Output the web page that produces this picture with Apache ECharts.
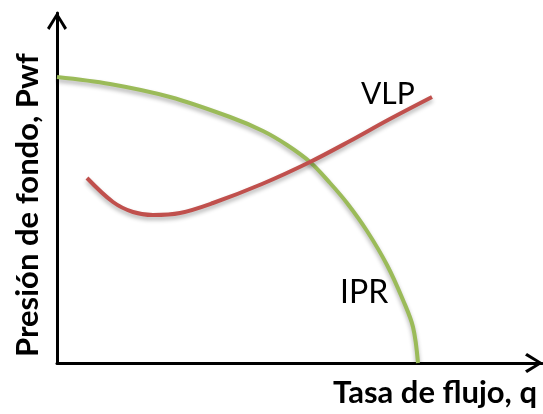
<!DOCTYPE html>
<html>
<head>
<meta charset="utf-8">
<script src="https://cdn.jsdelivr.net/npm/echarts@6/dist/echarts.min.js"></script>
<style>
  html, body { margin: 0; padding: 0; background: #fff; }
  #chart { width: 543px; height: 414px; }
</style>
</head>
<body>
<div id="chart"></div>
<script>
// curvas esquematicas (unidades arbitrarias)
var iprQ = [0, 53, 113, 173, 206, 230, 253, 273, 290, 310, 330, 346, 356, 361];
var iprP = [286, 279, 266, 246, 232, 218, 201, 180, 160, 132, 98, 63, 36, 0];

var vlpQ = [30, 56, 76, 96, 123, 156, 205, 253, 293, 331, 375];
var vlpP = [185, 161, 151, 148, 150, 160, 179, 201, 222, 243, 266];

var xTitle = 'Tasa de flujo, q';
var yTitle = 'Presión de fondo, Pwf';

function pares(xs, ys) {
	var out = [];
	for (var i = 0; i < xs.length; i++) {
		out.push([xs[i], ys[i]]);
	}
	return out;
}

// flecha abierta (chevron) rellena, apuntando hacia arriba
var chevron = 'path://M10,0 L20,16 L17.6,18 L10,5.2 L2.4,18 L0,16 Z';

var chart = echarts.init(document.getElementById('chart'));

var ejeLinea = {
	show: true,
	symbol: ['none', chevron],
	symbolSize: [20, 18],
	symbolOffset: [0, -8],
	lineStyle: { color: '#000', width: 3 }
};

var sombra = { shadowColor: 'rgba(0,0,0,0.3)', shadowBlur: 4, shadowOffsetY: 3 };

var option = {
	animation: false,
	grid: { left: 57, top: 13, right: 1, bottom: 51 },
	xAxis: {
		type: 'value', min: 0, max: 485,
		axisLine: ejeLinea,
		axisTick: { show: false }, axisLabel: { show: false }, splitLine: { show: false }
	},
	yAxis: {
		type: 'value', min: 0, max: 350,
		axisLine: ejeLinea,
		axisTick: { show: false }, axisLabel: { show: false }, splitLine: { show: false }
	},
	series: [{
		name: 'IPR',
		type: 'line',
		smooth: 0.35,
		showSymbol: false,
		data: pares(iprQ, iprP),
		lineStyle: Object.assign({ color: '#9BBB59', width: 4 }, sombra)
	}, {
		name: 'VLP',
		type: 'line',
		smooth: 0.35,
		showSymbol: false,
		data: pares(vlpQ, vlpP),
		lineStyle: Object.assign({ color: '#C0504D', width: 4 }, sombra)
	}],
	graphic: [{
		type: 'text', x: 361, y: 109,
		style: { text: 'VLP', font: '30px Lato', fill: '#000', verticalAlign: 'bottom' }
	}, {
		type: 'text', x: 340, y: 309,
		style: { text: 'IPR', font: '32px Lato', fill: '#000', verticalAlign: 'bottom' }
	}, {
		type: 'text', x: 537, y: 393,
		style: { text: xTitle, font: 'bold 31px Lato', fill: '#000', align: 'right', verticalAlign: 'middle' }
	}, {
		type: 'text', x: 28, y: 205, rotation: Math.PI / 2,
		style: { text: yTitle, font: 'bold 31px Lato', fill: '#000', align: 'center', verticalAlign: 'middle' }
	}]
};

chart.setOption(option);
</script>
</body>
</html>
